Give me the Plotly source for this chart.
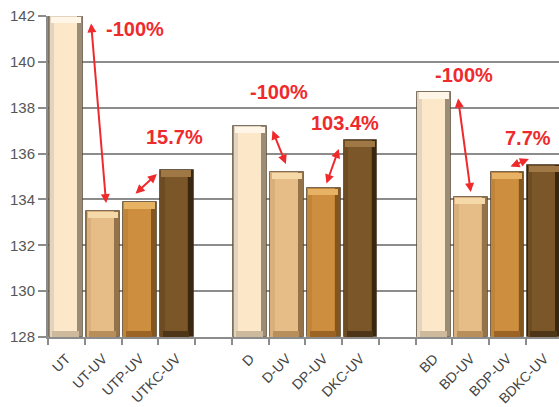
import plotly.graph_objects as go

# ---------------- data ----------------
categories = ["UT", "UT-UV", "UTP-UV", "UTKC-UV",
              "D", "D-UV", "DP-UV", "DKC-UV",
              "BD", "BD-UV", "BDP-UV", "BDKC-UV"]
values = [142.0, 133.5, 133.9, 135.3,
          137.2, 135.2, 134.5, 136.6,
          138.7, 134.1, 135.2, 135.5]
# slot on the axis for each bar (an empty slot separates the groups)
slots = [0, 1, 2, 3, 5, 6, 7, 8, 10, 11, 12, 13]
change_labels = ["-100%", "15.7%", "-100%", "103.4%", "-100%", "7.7%"]
y_ticks = [128, 130, 132, 134, 136, 138, 140, 142]

# ---------------- style ----------------
face = ["#FDE7C9", "#E6BD87", "#CD8E3F", "#7B5629"]
edge_dark = ["#9C8C76", "#94724A", "#83561F", "#3A2710"]
edge_light = ["#E2D4BF", "#D9B07C", "#C08538", "#6E4C23"]
top_light = ["#FFF6E8", "#F6D9A8", "#E8B265", "#A07845"]
bottom_dark = ["#CDB99B", "#B88E5A", "#9C6424", "#4E3517"]

def per_bar(pal):
    return [pal[i % 4] for i in range(len(values))]

BASE = 128.0
BW = 0.92
bev_top = 0.30
bev_bot = 0.28

fig = go.Figure()

def add_layer(base, height, width, offset, colors, line=None):
    fig.add_trace(go.Bar(
        x=slots, y=height, base=base, width=width, offset=offset,
        marker=dict(color=colors, line=line or dict(width=0)),
        hoverinfo="skip", showlegend=False))

n = len(values)
# outer frame (dark right side)
add_layer([BASE] * n, [v - BASE for v in values], BW, -BW / 2, per_bar(edge_dark),
          dict(width=1, color="rgba(60,45,25,0.55)"))
# lighter left side
add_layer([BASE] * n, [v - BASE for v in values], BW - 0.17, -BW / 2 + 0.01, per_bar(edge_light))
# bottom bevel
add_layer([BASE] * n, [bev_bot] * n, BW - 0.2, -BW / 2 + 0.08, per_bar(bottom_dark))
# face
add_layer([BASE + bev_bot] * n, [v - BASE - bev_bot - bev_top for v in values],
          BW - 0.30, -BW / 2 + 0.13, per_bar(face))
# top highlight bevel
add_layer([v - bev_top for v in values], [bev_top - 0.03] * n, BW - 0.1, -BW / 2 + 0.04,
          per_bar(top_light))

# ---------------- annotations ----------------
RED = "#EE2A2D"
idx = {c: i for i, c in enumerate(categories)}
# arrows: (from bar, dx, dy, to bar, dx, dy) relative to bar slot / top value
arrows = [
    ("UT", 0.67, -0.26, "UT-UV", 0.08, 0.34),
    ("UT-UV", 0.84, 0.69, "UTKC-UV", -0.54, -0.19),
    ("D", 0.59, -0.13, "D-UV", -0.03, 0.35),
    ("DP-UV", 0.06, 0.13, "DKC-UV", -0.59, -0.40),
    ("BD", 0.65, -0.23, "BD-UV", 0.0, 0.22),
    ("BDP-UV", 0.04, 0.21, "BDKC-UV", -0.42, 0.26),
]
label_pos = [(1.87, 141.43), (2.95, 136.72), (5.78, 138.69),
             (7.58, 137.33), (10.81, 139.43), (12.55, 136.68)]

annotations = []
for (a, adx, ady, b, bdx, bdy) in arrows:
    ia, ib = idx[a], idx[b]
    annotations.append(dict(
        x=slots[ib] + bdx, y=values[ib] + bdy,
        ax=slots[ia] + adx, ay=values[ia] + ady,
        xref="x", yref="y", axref="x", ayref="y",
        text="", showarrow=True, arrowside="end+start",
        arrowhead=2, startarrowhead=2, arrowsize=0.9, startarrowsize=0.9,
        arrowwidth=2, arrowcolor=RED, standoff=0, startstandoff=0))
for txt, (px, py) in zip(change_labels, label_pos):
    annotations.append(dict(
        x=px, y=py, xref="x", yref="y", text=txt, showarrow=False,
        font=dict(family="Liberation Sans, Arial", size=20, color=RED, weight="bold")))

fig.update_layout(
    width=559, height=407,
    margin=dict(l=48, r=0, t=16, b=70, autoexpand=False),
    paper_bgcolor="white", plot_bgcolor="white",
    barmode="overlay", bargap=0,
    annotations=annotations,
    font=dict(family="Liberation Sans, Arial", color="#555555"),
    xaxis=dict(
        range=[-0.5, 13.40], automargin=False,
        tickmode="array", tickvals=slots, ticktext=categories,
        tickangle=-45, ticks="", showgrid=False, zeroline=False,
        tickfont=dict(size=14, color="#444444"), ticklabelstandoff=6,
        showline=True, linecolor="#8C8C8C", linewidth=2,
        minor=dict(tick0=-0.5, dtick=1, ticks="outside", ticklen=6,
                   tickcolor="#8C8C8C", tickwidth=1.5, showgrid=False),
    ),
    yaxis=dict(
        range=[128, 142], automargin=False, tickmode="array", tickvals=y_ticks,
        showgrid=True, gridcolor="#8C8C8C", gridwidth=2,
        zeroline=False, showline=True, linecolor="#8C8C8C", linewidth=2,
        ticks="outside", ticklen=8, tickcolor="#8C8C8C", tickwidth=1.5,
        tickfont=dict(size=15, color="#555555"),
    ),
)

fig.write_html(
    "out.html",
    config={"displayModeBar": False},
    post_script="document.body.style.margin='0';document.body.style.overflow='hidden';",
)
